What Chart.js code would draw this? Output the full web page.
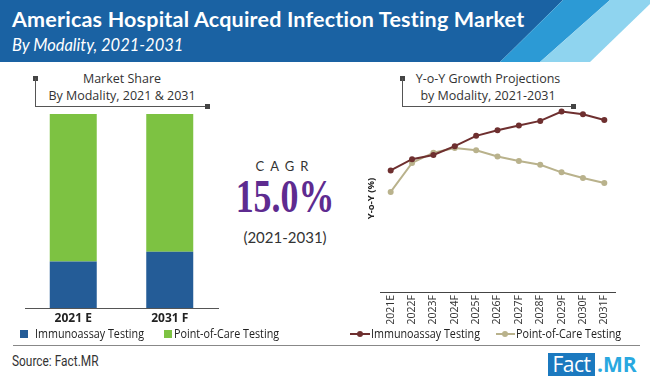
<!DOCTYPE html>
<html lang="en">
<head>
<meta charset="UTF-8">
<script src="https://cdn.jsdelivr.net/npm/chart.js@4.4.0/dist/chart.umd.min.js"></script>
<title>Americas Hospital Acquired Infection Testing Market</title>
<style>
  body { margin: 0; width: 650px; height: 379px; background: #fff; position: relative; overflow: hidden; font-family: "Open Sans", sans-serif; color: #333; }
  .abs { position: absolute; }
  .band { position: absolute; left: 0; top: 0; width: 650px; height: 62px; }
  #title { left: 12px; top: 6px; font: bold 21.5px "Lato", sans-serif; letter-spacing: 0.2px; color: #fff; white-space: nowrap; }
  #subtitle { left: 12px; top: 35px; font: italic 16.5px "Lato", sans-serif; color: #fff; white-space: nowrap; }
  .cap { font-size: 12.5px; text-align: center; white-space: nowrap; line-height: 17px; color: #333; }
  .sq { position: absolute; width: 5px; height: 5px; background: #444; }
  .ln { position: absolute; background: #555; }
  .leg { position: absolute; font-size: 12.5px; white-space: nowrap; color: #222; line-height: 14px; transform: scaleX(0.86); transform-origin: left; }
  .box { position: absolute; width: 8px; height: 8px; }
</style>
</head>
<body>
<div class="band" style="background:#1a62a3; clip-path: polygon(0 0, 563px 0, 500px 62px, 0 62px);"></div>
<div class="band" style="background:#2c9ad5; clip-path: polygon(563px 0, 610px 0, 540px 62px, 500px 62px);"></div>
<div class="band" style="background:#8fd4ef; clip-path: polygon(610px 0, 650px 0, 650px 4px, 590px 62px, 540px 62px);"></div>
<div id="title" class="abs">Americas Hospital Acquired Infection Testing Market</div>
<div id="subtitle" class="abs">By Modality, 2021-2031</div>

<!-- left caption + bracket -->
<div class="abs cap" style="left:22px; width:200px; top:70px;">Market Share<br>By Modality, 2021 &amp; 2031</div>
<div class="sq" style="left:33px; top:76px;"></div>
<div class="ln" style="left:35px; top:78px; width:1px; height:28px;"></div>
<div class="ln" style="left:35px; top:106px; width:172px; height:1px;"></div>
<div class="sq" style="left:205px; top:104px;"></div>

<!-- right caption + bracket -->
<div class="abs cap" style="left:388px; width:200px; top:70px;">Y-o-Y Growth Projections<br>by Modality, 2021-2031</div>
<div class="sq" style="left:400px; top:76px;"></div>
<div class="ln" style="left:402px; top:78px; width:1px; height:28px;"></div>
<div class="ln" style="left:402px; top:106px; width:171px; height:1px;"></div>
<div class="sq" style="left:571px; top:104px;"></div>

<canvas id="share" class="abs" width="230" height="218" style="left:0; top:110px;"></canvas>
<canvas id="growth" class="abs" width="265" height="224" style="left:360px; top:100px;"></canvas>

<!-- CAGR -->
<div class="abs" style="left:230px; width:110px; top:158px; text-align:center; font:13px 'Lato', sans-serif; letter-spacing:6px; color:#333;">CAGR</div>
<div class="abs" style="left:220px; width:130px; top:172px; text-align:center; font:bold 46px 'Liberation Serif', serif; color:#5e2b90; transform:scaleX(0.78); line-height:50px;">15.0%</div>
<div class="abs" style="left:230px; width:110px; top:228px; text-align:center; font:15px 'Lato', sans-serif; color:#333;">(2021-2031)</div>

<!-- legends -->
<div class="box" style="left:20px; top:330px; background:#245c97;"></div>
<div class="leg" style="left:35px; top:327px;">Immunoassay Testing</div>
<div class="box" style="left:164px; top:330px; background:#7dc242;"></div>
<div class="leg" style="left:174px; top:327px;">Point-of-Care Testing</div>

<div class="ln" style="left:350px; top:333px; width:20px; height:2px; background:#6e2f2f;"></div>
<div class="abs" style="left:357px; top:331px; width:6px; height:6px; border-radius:3px; background:#6e2f2f;"></div>
<div class="leg" style="left:371px; top:327px;">Immunoassay Testing</div>
<div class="ln" style="left:496px; top:333px; width:19px; height:2px; background:#b9b28c;"></div>
<div class="abs" style="left:502px; top:331px; width:6px; height:6px; border-radius:3px; background:#b9b28c;"></div>
<div class="leg" style="left:516px; top:327px;">Point-of-Care Testing</div>

<!-- footer -->
<div class="ln" style="left:13px; top:345px; width:627px; height:1px; background:#888;"></div>
<div class="abs" style="left:12px; top:353px; font:14.5px 'Roboto', sans-serif; color:#333; transform:scaleX(0.82); transform-origin:left;">Source: Fact.MR</div>
<div class="abs" style="left:548px; top:353px; width:47px; height:23px; background:#1b79bf; color:#fff; font:21px 'Open Sans', sans-serif; line-height:23px; text-align:center; letter-spacing:-0.5px;">Fact</div>
<div class="abs" style="left:597px; top:353px; color:#29a8e0; font:bold 21px 'Open Sans', sans-serif; line-height:23px;">.MR</div>

<script>
  // market share (%)
  const shareYears = ['2021 E', '2031 F'];
  const immunoShare = [24, 29];
  const pocShare = [76, 71];

  // y-o-y growth (%)
  const growthYears = ['2021E', '2022F', '2023F', '2024F', '2025F', '2026F', '2027F', '2028F', '2029F', '2030F', '2031F'];
  const immunoGrowth = [13.0, 14.2, 14.65, 15.6, 16.7, 17.3, 17.8, 18.3, 19.3, 19.0, 18.4];
  const pocGrowth = [10.7, 13.8, 14.9, 15.4, 15.15, 14.5, 14.0, 13.6, 12.8, 12.2, 11.65];

  Chart.defaults.font.family = '"Open Sans", sans-serif';

  new Chart(document.getElementById('share'), {
    type: 'bar',
    data: {
      labels: shareYears,
      datasets: [
        { label: 'Immunoassay Testing', data: immunoShare, backgroundColor: '#245c97', borderWidth: 0 },
        { label: 'Point-of-Care Testing', data: pocShare, backgroundColor: '#7dc242', borderWidth: 0 }
      ]
    },
    options: {
      responsive: false,
      animation: false,
      layout: { padding: { top: 4, left: 25, right: 12, bottom: 0 } },
      datasets: { bar: { barPercentage: 0.487, categoryPercentage: 1 } },
      plugins: { legend: { display: false }, tooltip: { enabled: false } },
      scales: {
        x: {
          stacked: true,
          grid: { display: false, drawTicks: false },
          border: { display: true, color: '#555', width: 1 },
          ticks: { color: '#222', font: { size: 12, weight: 'bold' }, padding: 3 },
          afterFit: s => { s.height = 20; }
        },
        y: { stacked: true, display: false, min: 0, max: 100 }
      }
    }
  });

  new Chart(document.getElementById('growth'), {
    type: 'line',
    data: {
      labels: growthYears,
      datasets: [
        { label: 'Immunoassay Testing', data: immunoGrowth, borderColor: '#6e2f2f', backgroundColor: '#6e2f2f',
          pointBackgroundColor: '#6e2f2f', pointBorderWidth: 0, pointRadius: 3, borderWidth: 2 },
        { label: 'Point-of-Care Testing', data: pocGrowth, borderColor: '#b9b28c', backgroundColor: '#b9b28c',
          pointBackgroundColor: '#b9b28c', pointBorderWidth: 0, pointRadius: 3, borderWidth: 2 }
      ]
    },
    options: {
      responsive: false,
      animation: false,
      layout: { padding: { top: 5, right: 10, left: 0, bottom: 0 } },
      plugins: { legend: { display: false }, tooltip: { enabled: false } },
      scales: {
        x: {
          offset: true,
          grid: { display: false, drawTicks: false },
          border: { display: true, color: '#444', width: 1 },
          ticks: { color: '#333', font: { size: 10.5 }, minRotation: 90, maxRotation: 90, autoSkip: false, padding: 3 },
          afterFit: s => { s.height = 32; }
        },
        y: {
          min: 0, max: 20,
          grid: { display: false },
          border: { display: false },
          ticks: { display: false },
          title: { display: true, text: 'Y-o-Y (%)', color: '#222', font: { size: 9.5, weight: 'bold' }, padding: { top: 6, bottom: 0 } },
          afterFit: s => { s.width = 20; }
        }
      }
    }
  });
</script>
</body>
</html>
